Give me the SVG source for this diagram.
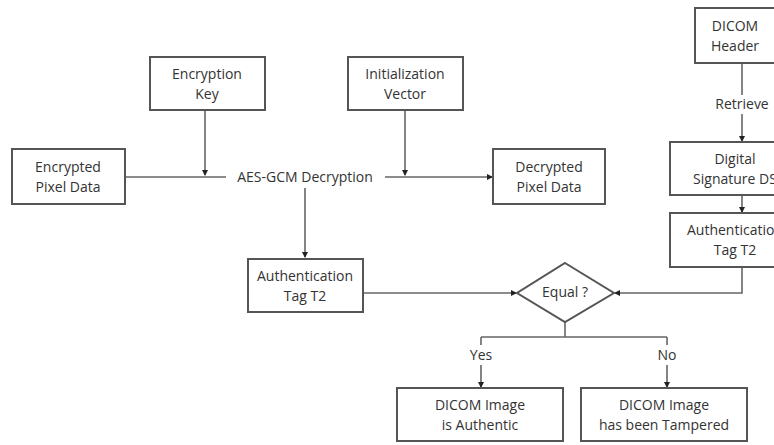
<svg xmlns="http://www.w3.org/2000/svg" width="774" height="445" viewBox="0 0 774 445">
<defs>
<marker id="ah" markerWidth="6" markerHeight="6" refX="5" refY="3" orient="auto" markerUnits="userSpaceOnUse">
<path d="M0,0 L6,3 L0,6 z" fill="#222"/>
</marker>
<style>
.box{fill:#fff;stroke:#555;stroke-width:2}
.t{font-family:"Open Sans","DejaVu Sans",sans-serif;font-size:14px;fill:#333;text-anchor:middle}
.c{fill:none;stroke:#666;stroke-width:1.6}
</style>
</defs>
<rect width="774" height="445" fill="#fff"/>
<g id="connectors">
<path class="c" d="M125,177 H226" stroke-width="2.5"/>
<path class="c" d="M205,110 V175" marker-end="url(#ah)"/>
<path class="c" d="M405,110 V175" marker-end="url(#ah)"/>
<path class="c" d="M385,177 H492" stroke-width="2.5" marker-end="url(#ah)"/>
<path class="c" d="M305,188 V257" marker-end="url(#ah)"/>
<path class="c" d="M363,293 H516" marker-end="url(#ah)"/>
<path class="c" d="M742,267 V293 H615" marker-end="url(#ah)"/>
<path class="c" d="M742,63 V95"/>
<path class="c" d="M742,114 V141" marker-end="url(#ah)"/>
<path class="c" d="M742,195 V212" marker-end="url(#ah)"/>
<path class="c" d="M565,322 V337 M481,337 H667"/>
<path class="c" d="M481,337 V345 M481,365 V387" marker-end="url(#ah)"/>
<path class="c" d="M667,337 V345 M667,365 V387" marker-end="url(#ah)"/>
</g>
<g id="enc-data"><rect class="box" x="12" y="149" width="113" height="55"/><text class="t" x="68" y="172">Encrypted</text><text class="t" x="68" y="192">Pixel Data</text></g>
<g id="enc-key"><rect class="box" x="150" y="57" width="115" height="53"/><text class="t" x="207" y="79">Encryption</text><text class="t" x="207" y="99">Key</text></g>
<g id="iv"><rect class="box" x="348" y="57" width="115" height="53"/><text class="t" x="405" y="79">Initialization</text><text class="t" x="405" y="99">Vector</text></g>
<g id="aes"><text class="t" x="305" y="182">AES-GCM Decryption</text></g>
<g id="dec-data"><rect class="box" x="493" y="149" width="112" height="55"/><text class="t" x="549" y="172">Decrypted</text><text class="t" x="549" y="192">Pixel Data</text></g>
<g id="tag1"><rect class="box" x="248" y="259" width="115" height="53"/><text class="t" x="305" y="281">Authentication</text><text class="t" x="305" y="301">Tag T2</text></g>
<g id="equal"><polygon class="box" points="565,263 614,293 565,322 517,293"/><text class="t" x="565" y="297">Equal ?</text></g>
<g id="yes"><text class="t" x="481" y="360">Yes</text></g>
<g id="no"><text class="t" x="667" y="360">No</text></g>
<g id="authentic"><rect class="box" x="397" y="388" width="166" height="53"/><text class="t" x="480" y="410">DICOM Image</text><text class="t" x="480" y="430">is Authentic</text></g>
<g id="tampered"><rect class="box" x="581" y="388" width="166" height="53"/><text class="t" x="664" y="410">DICOM Image</text><text class="t" x="664" y="430">has been Tampered</text></g>
<g id="header"><rect class="box" x="695" y="8" width="90" height="55"/><text class="t" x="735" y="31">DICOM</text><text class="t" x="735" y="51">Header</text></g>
<g id="retrieve"><text class="t" x="742" y="109">Retrieve</text></g>
<g id="ds"><rect class="box" x="670" y="142" width="130" height="53"/><text class="t" x="735" y="164">Digital</text><text class="t" x="735" y="184">Signature DS</text></g>
<g id="tag2"><rect class="box" x="670" y="213" width="130" height="54"/><text class="t" x="735" y="235">Authentication</text><text class="t" x="735" y="255">Tag T2</text></g>
</svg>
